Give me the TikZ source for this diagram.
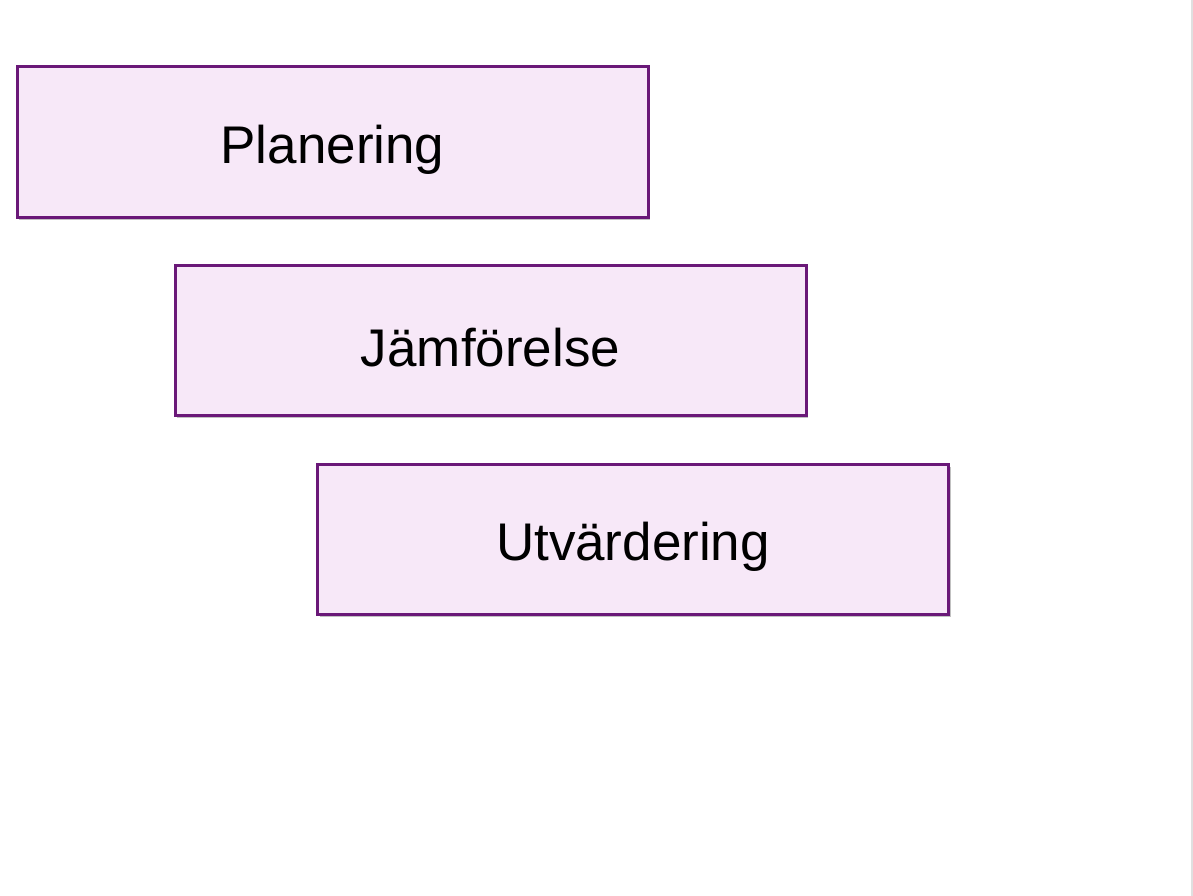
\documentclass[tikz,border=0pt]{standalone}
\usepackage{fontspec}
\setmainfont{Liberation Sans}
\usetikzlibrary{shadows}
\definecolor{boxfill}{HTML}{F7E8F8}
\definecolor{boxline}{HTML}{6A1878}
\begin{document}
\begin{tikzpicture}[x=1pt,y=-1pt,
  stage/.style={draw=boxline, line width=3pt, fill=boxfill,
    minimum width=631pt, minimum height=150pt, inner sep=0pt,
    drop shadow={shadow xshift=2pt, shadow yshift=-3pt, fill=black!40, opacity=0.6}},
  stagetext/.style={inner sep=0pt, font=\fontsize{53}{63}\selectfont}]
\useasboundingbox[fill=white] (0,0) rectangle (1193,896);
\draw[black!12, line width=1.5pt] (1192,0) -- (1192,896);
\node[stage] (plan) at (332.5,142) {};
\node[stage] (jamf) at (490.5,340) {};
\node[stage] (utv) at (633,539) {};
\node[stagetext] (plan-t) at ([yshift=-8pt]plan.center) {Planering};
\node[stagetext] (jamf-t) at ([yshift=-8pt]jamf.center) {Jämförelse};
\node[stagetext] (utv-t) at ([yshift=-8pt]utv.center) {Utvärdering};
\end{tikzpicture}
\end{document}
